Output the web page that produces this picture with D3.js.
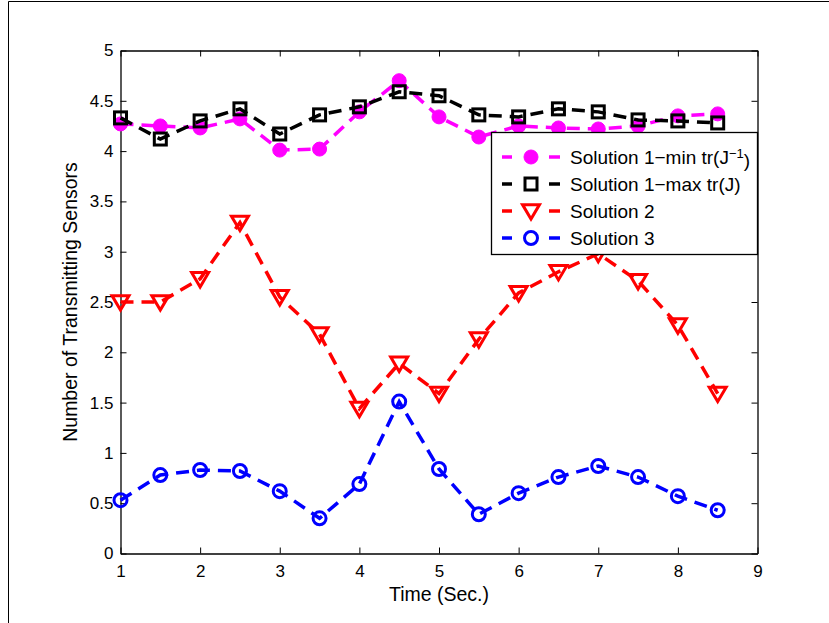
<!DOCTYPE html>
<html>
<head>
<meta charset="utf-8">
<script src="https://cdn.jsdelivr.net/npm/d3@7"></script>
<style>
html,body{margin:0;padding:0;background:#fff;}
text{font-family:"Liberation Sans",Arial,Helvetica,sans-serif;}
</style>
</head>
<body>
<svg id="chart" width="829" height="623"></svg>
<script>
const times = [1,1.5,2,2.5,3,3.5,4,4.5,5,5.5,6,6.5,7,7.5,8,8.5];
const sol1Min = [4.27,4.25,4.23,4.32,4.01,4.02,4.39,4.70,4.34,4.14,4.25,4.23,4.22,4.25,4.35,4.37];
const sol1Max = [4.33,4.12,4.30,4.42,4.17,4.36,4.44,4.59,4.55,4.36,4.34,4.42,4.39,4.31,4.30,4.28];
const sol2 = [2.50,2.50,2.73,3.29,2.55,2.18,1.44,1.89,1.59,2.13,2.59,2.80,2.98,2.71,2.27,1.59];
const sol3 = [0.53,0.78,0.83,0.82,0.62,0.35,0.69,1.51,0.84,0.39,0.60,0.76,0.87,0.76,0.57,0.43];
const xTicks = [1,2,3,4,5,6,7,8,9];
const yTicks = [0,0.5,1,1.5,2,2.5,3,3.5,4,4.5,5];
const seriesNames = ["Solution 1\u2212min tr(J", "Solution 1\u2212max tr(J)", "Solution 2", "Solution 3"];
const seriesColors = ["#ff00ff", "#000000", "#ff0000", "#0000ff"];
const seriesMarkers = ["dot", "square", "triangle", "circle"];
const xLabel = "Time (Sec.)";
const yLabel = "Number of Transmitting Sensors";

const series = [sol1Min, sol1Max, sol2, sol3].map((v,i)=>({
  name: seriesNames[i], color: seriesColors[i], marker: seriesMarkers[i],
  values: v.map((y,j)=>({x: times[j], y}))
}));

const svg = d3.select("#chart");
const L = 120.5, R = 757.5, T = 50.5, B = 553.5;
const x = d3.scaleLinear().domain([1,9]).range([L,R]);
const y = d3.scaleLinear().domain([0,5]).range([B,T]);

// outer frame
svg.append("line").attr("x1",8.5).attr("x2",829).attr("y1",1.5).attr("y2",1.5).attr("stroke","#000").attr("stroke-width",1);
svg.append("line").attr("x1",8.5).attr("x2",8.5).attr("y1",1.5).attr("y2",623).attr("stroke","#000").attr("stroke-width",1);

// axes
const tickLen = 6;
const fsTick = 17;
const gx = svg.append("g").attr("transform",`translate(0,${B})`)
  .call(d3.axisBottom(x).tickValues(xTicks).tickSizeInner(-tickLen).tickSizeOuter(0).tickPadding(11).tickFormat(d3.format("d")));
const gxTop = svg.append("g").attr("transform",`translate(0,${T})`)
  .call(d3.axisTop(x).tickValues(xTicks).tickSizeInner(-tickLen).tickSizeOuter(0).tickFormat(""));
const gy = svg.append("g").attr("transform",`translate(${L},0)`)
  .call(d3.axisLeft(y).tickValues(yTicks).tickSizeInner(-tickLen).tickSizeOuter(0).tickPadding(7).tickFormat(d=>String(d)));
const gyR = svg.append("g").attr("transform",`translate(${R},0)`)
  .call(d3.axisRight(y).tickValues(yTicks).tickSizeInner(-tickLen).tickSizeOuter(0).tickFormat(""));
[gx,gxTop,gy,gyR].forEach(g=>{
  g.select(".domain").attr("stroke","#000").attr("stroke-width",1.3);
  g.selectAll(".tick line").attr("stroke","#000").attr("stroke-width",1);
  g.selectAll("text").attr("font-size",fsTick).attr("fill","#000").attr("font-family","Liberation Sans, Arial, sans-serif");
});
gx.selectAll(".tick text").attr("dy","0.71em");

// axis labels
svg.append("text").attr("x",(L+R)/2).attr("y",601).attr("text-anchor","middle")
  .attr("font-size",19.5).text(xLabel);
svg.append("text").attr("transform",`translate(77,${(T+B)/2}) rotate(-90)`).attr("text-anchor","middle")
  .attr("font-size",19.5).text(yLabel);

// lines
const line = d3.line().x(d=>x(d.x)).y(d=>y(d.y));

function drawMarker(g, type, color, cx, cy){
  if(type==="dot"){
    g.append("circle").attr("cx",cx).attr("cy",cy).attr("r",7).attr("fill",color).attr("stroke",color).attr("stroke-width",1);
  } else if(type==="square"){
    g.append("rect").attr("x",cx-6).attr("y",cy-6).attr("width",12).attr("height",12)
      .attr("fill","none").attr("stroke",color).attr("stroke-width",3);
  } else if(type==="triangle"){
    const s=8.5;
    g.append("path").attr("d",`M${cx-s},${cy-s*0.75} L${cx+s},${cy-s*0.75} L${cx},${cy+s*0.95} Z`)
      .attr("fill","none").attr("stroke",color).attr("stroke-width",3).attr("stroke-linejoin","miter");
  } else if(type==="circle"){
    g.append("circle").attr("cx",cx).attr("cy",cy).attr("r",6.5).attr("fill","none").attr("stroke",color).attr("stroke-width",3);
  }
}

const plotG = svg.append("g");
series.forEach(s=>{
  const g = plotG.append("g");
  g.append("path").datum(s.values).attr("d",line).attr("fill","none")
    .attr("stroke",s.color).attr("stroke-width",3.5).attr("stroke-dasharray","13,8");
  s.values.forEach(d=>drawMarker(g, s.marker, s.color, x(d.x), y(d.y)));
});

// legend
const lg = svg.append("g");
lg.append("rect").attr("x",491.5).attr("y",132.5).attr("width",266).attr("height",122)
  .attr("fill","#fff").attr("stroke","#000").attr("stroke-width",1.3);
const rowY = [157,184,211,238];
series.forEach((s,i)=>{
  const yy = rowY[i];
  lg.append("line").attr("x1",502).attr("x2",512).attr("y1",yy).attr("y2",yy).attr("stroke",s.color).attr("stroke-width",3.5);
  lg.append("line").attr("x1",549).attr("x2",560).attr("y1",yy).attr("y2",yy).attr("stroke",s.color).attr("stroke-width",3.5);
  drawMarker(lg, s.marker, s.color, 531, yy);
  const t = lg.append("text").attr("x",570).attr("y",yy).attr("dy","0.36em").attr("font-size",19).text(s.name);
  if(i===0){
    t.append("tspan").attr("dy","-0.45em").attr("font-size",13).text("\u22121");
    t.append("tspan").attr("dy","0.45em").attr("font-size",19).text(")");
  }
});
</script>
</body>
</html>
